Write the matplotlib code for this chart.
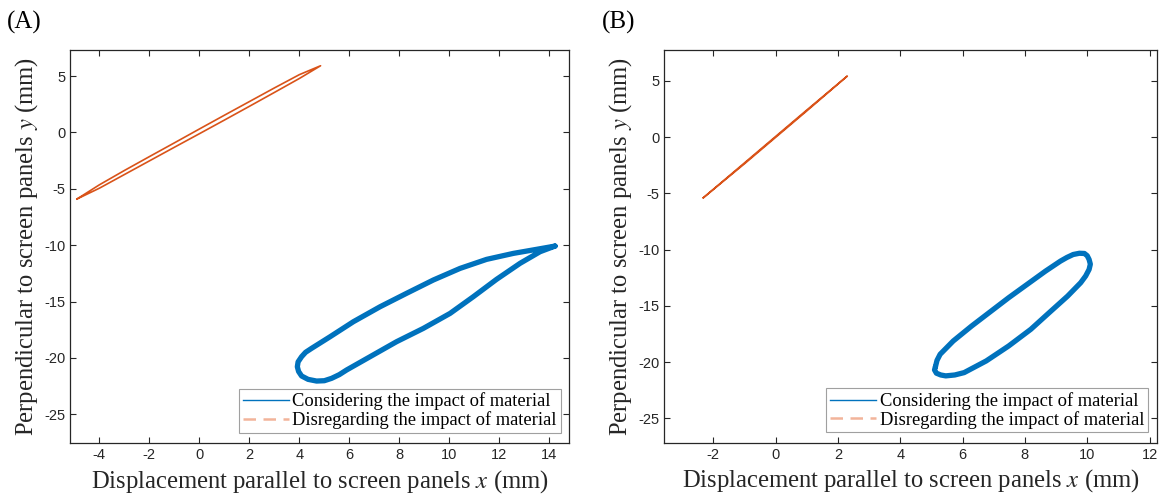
import matplotlib
matplotlib.use("Agg")
import matplotlib.pyplot as plt
from matplotlib.lines import Line2D

plt.rcParams["font.family"] = ["Liberation Sans", "DejaVu Sans"]
plt.rcParams["mathtext.fontset"] = "stix"
plt.rcParams["axes.unicode_minus"] = False

# (A) disregarding material: thin loop
a_red_x = [-4.89, -4.0, -3.0, -2.0, -1.0, 0.0, 1.0, 2.0, 3.0, 4.0, 4.85,
           4.0, 3.0, 2.0, 1.0, 0.0, -1.0, -2.0, -3.0, -4.0, -4.89]
a_red_y = [-5.90, -4.65, -3.38, -2.15, -0.93, 0.30, 1.52, 2.73, 3.94, 5.12, 5.91,
           4.78, 3.54, 2.31, 1.09, -0.12, -1.32, -2.53, -3.74, -4.95, -5.90]

# (A) considering material: teardrop loop
a_blue_x = [14.23, 13.49, 12.56, 11.49, 10.43, 9.36, 8.29, 7.23, 6.16, 5.23, 4.49,
            4.25, 4.09, 3.95, 3.92, 3.97, 4.09, 4.35, 4.69, 5.00, 5.29, 5.60, 5.89,
            6.83, 7.89, 8.96, 10.03, 10.96, 11.89, 12.83, 13.63, 14.23]
a_blue_y = [-10.08, -10.37, -10.73, -11.26, -12.06, -13.09, -14.27, -15.46, -16.79,
            -18.12, -19.15, -19.50, -19.89, -20.35, -20.78, -21.20, -21.60, -21.90,
            -22.05, -22.02, -21.81, -21.48, -21.07, -19.89, -18.56, -17.38, -16.05,
            -14.57, -13.03, -11.61, -10.58, -10.08]

# (B) disregarding material: nearly a straight line
b_red_x = [-2.32, -1.0, 0.0, 1.0, 2.30, 1.0, 0.0, -1.0, -2.32]
b_red_y = [-5.40, -2.30, 0.05, 2.40, 5.42, 2.32, -0.03, -2.38, -5.40]

# (B) considering material: ellipse
b_blue_x = [5.13, 5.18, 5.28, 5.70, 6.29, 6.88, 7.48, 8.07, 8.66, 9.14, 9.35, 9.55,
            9.75, 9.91, 10.00, 10.06, 10.10, 10.06, 9.95, 9.79, 9.37, 8.78, 8.19,
            7.48, 6.76, 6.05, 5.75, 5.46, 5.30, 5.16, 5.10, 5.13]
b_blue_y = [-20.41, -19.85, -19.31, -18.13, -16.80, -15.55, -14.28, -13.10, -11.92,
            -11.03, -10.70, -10.44, -10.33, -10.35, -10.55, -10.88, -11.30, -11.77,
            -12.35, -12.95, -14.14, -15.61, -17.09, -18.57, -19.90, -20.94, -21.15,
            -21.23, -21.15, -20.99, -20.70, -20.41]

a_xticks = [-4, -2, 0, 2, 4, 6, 8, 10, 12, 14]
b_xticks = [-2, 0, 2, 4, 6, 8, 10, 12]
yticks = [-25, -20, -15, -10, -5, 0, 5]

labels = ["Considering the impact of material", "Disregarding the impact of material"]
xlabel = "Displacement parallel to screen panels $x$ (mm)"
ylabel = "Perpendicular to screen panels $y$ (mm)"

blue = "#0072BD"
red = "#D95319"
ink = "#262626"

fig = plt.figure(figsize=(11.59, 5.0), dpi=100)
axA = fig.add_axes([0.0607, 0.1134, 0.4303, 0.786])
axB = fig.add_axes([0.5732, 0.1146, 0.4251, 0.785])

panels = [
    (axA, a_blue_x, a_blue_y, a_red_x, a_red_y, a_xticks, (-5.16, 14.79), (-27.57, 7.28), (0.983, 0.027), "(A)", 0.006),
    (axB, b_blue_x, b_blue_y, b_red_x, b_red_y, b_xticks, (-3.57, 12.24), (-27.17, 7.72), (0.982, 0.026), "(B)", 0.519),
]

for ax, bx, by, rx, ry, xt, xl, yl, lpos, tag, tx in panels:
    ax.plot(bx, by, color=blue, lw=3.8, solid_joinstyle="round", solid_capstyle="round")
    ax.plot(rx, ry, color=red, lw=1.2)
    ax.set_xlim(xl)
    ax.set_ylim(yl)
    ax.set_xticks(xt)
    ax.set_yticks(yticks)
    ax.tick_params(direction="in", top=True, right=True, length=4, width=0.8,
                   colors=ink, labelsize=10.5)
    for s in ax.spines.values():
        s.set_color(ink)
        s.set_linewidth(0.9)
    ax.set_xlabel(xlabel, family="Liberation Serif", fontsize=17.7, color=ink, labelpad=4)
    ax.set_ylabel(ylabel, family="Liberation Serif", fontsize=17.7, color=ink, labelpad=3)
    handles = [Line2D([], [], color=blue, lw=1.0),
               Line2D([], [], color="#F2B49A", lw=1.8, ls=(0, (5, 3)))]
    leg = ax.legend(handles, labels, loc="lower right", bbox_to_anchor=lpos,
                    prop={"family": "Liberation Serif", "size": 13.3},
                    frameon=True, fancybox=False, framealpha=1, edgecolor="#a0a0a0",
                    handlelength=2.5, handletextpad=0.2, labelspacing=0.05,
                    borderpad=0.2, borderaxespad=0)
    leg.get_frame().set_linewidth(0.8)
    fig.text(tx, 0.955, tag, family="Liberation Serif", fontsize=18, va="center", ha="left")

fig.savefig("out.png", dpi=100)
